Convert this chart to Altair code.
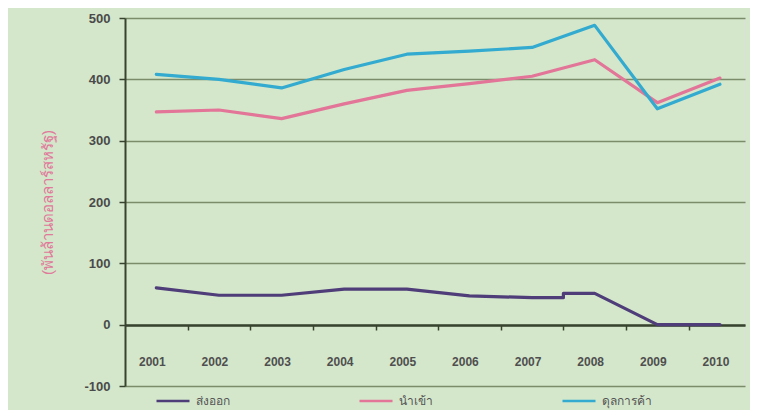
import altair as alt
import pandas as pd

# ---- data ----
years = [2001, 2002, 2003, 2004, 2005, 2006, 2007, 2008, 2009, 2010]
import_vals = [347, 350, 336, 360, 382, 393, 405, 432, 362, 402]
balance_vals = [408, 400, 386, 416, 441, 446, 452, 488, 352, 392]
export_years = [2001, 2002, 2003, 2004, 2005, 2006, 2007, 2007.5, 2007.5, 2008, 2009, 2010]
export_vals = [60, 48, 48, 58, 58, 47, 44, 44, 51, 51, 0, 0]

series_names = ["ส่งออก", "นำเข้า", "ดุลการค้า"]
series_colors = ["#4e3d78", "#e27598", "#33aacf"]
y_ticks = [-100, 0, 100, 200, 300, 400, 500]
y_title = "(พันล้านดอลลาร์สหรัฐ)"

# ---- tables ----
rows = []
for i, (yr, v) in enumerate(zip(export_years, export_vals)):
    rows.append({"year": yr, "value": v, "series": series_names[0], "idx": i})
for i, (yr, v) in enumerate(zip(years, import_vals)):
    rows.append({"year": yr, "value": v, "series": series_names[1], "idx": i})
for i, (yr, v) in enumerate(zip(years, balance_vals)):
    rows.append({"year": yr, "value": v, "series": series_names[2], "idx": i})
lines_df = pd.DataFrame(rows)

labels_df = pd.DataFrame({"year": years, "label": [str(y) for y in years]})
boundaries = [y + 0.5 for y in years[:-1]]

x_scale = alt.Scale(domain=[2000.5, 2010.4], nice=False, zero=False)
y_scale = alt.Scale(domain=[-100, 500], nice=False)

dark = "#38432f"

x_axis = alt.Axis(values=boundaries, labels=False, title=None, grid=False,
                  tickSize=5, tickWidth=1.5, tickColor=dark,
                  domainColor=dark, domainWidth=2.5, offset=-61)

lines = alt.Chart(lines_df).mark_line(strokeWidth=3.2, strokeCap="round", strokeJoin="round").encode(
    x=alt.X("year:Q", scale=x_scale, axis=x_axis),
    y=alt.Y("value:Q", scale=y_scale,
            axis=alt.Axis(values=y_ticks, grid=True, gridColor="#7a8c69", gridWidth=1.3,
                          domainColor=dark, domainWidth=2, tickColor=dark, tickSize=6,
                          tickWidth=1.5, labelPadding=9, labelFontSize=13,
                          labelFontWeight="bold", labelExpr="'' + datum.value",
                          labelColor="#4a4a4a", title=y_title, titleColor="#e0799a",
                          titleFontSize=15, titleFontWeight="normal",
                          titleX=-78, titleY=184, titleAngle=270,
                          titleAlign="center", titleBaseline="middle")),
    color=alt.Color("series:N",
                    scale=alt.Scale(domain=series_names, range=series_colors),
                    legend=alt.Legend(title=None, orient="none", legendX=30, legendY=365,
                                      direction="horizontal", gridAlign="all",
                                      columnPadding=108, symbolType="stroke",
                                      symbolSize=1089, symbolStrokeWidth=2.5,
                                      labelFontSize=12, labelColor="#555555",
                                      labelOffset=5, padding=0)),
    order="idx:Q",
)

year_text = alt.Chart(labels_df).mark_text(fontSize=12, fontWeight="bold", color="#4f4f4f",
                                           baseline="middle", dx=-4).encode(
    x=alt.X("year:Q", scale=x_scale, axis=x_axis),
    y=alt.value(344),
    text="label:N",
)

chart = alt.layer(lines, year_text).properties(
    width=620,
    height=368,
    padding={"left": 117, "top": 10, "right": 5, "bottom": 24},
    autosize=alt.AutoSizeParams(type="none"),
    background="#d4e7cb",
).configure_view(strokeOpacity=0).configure(font="Liberation Sans")

chart.save("out.html", embed_options={"renderer": "svg", "actions": False})
